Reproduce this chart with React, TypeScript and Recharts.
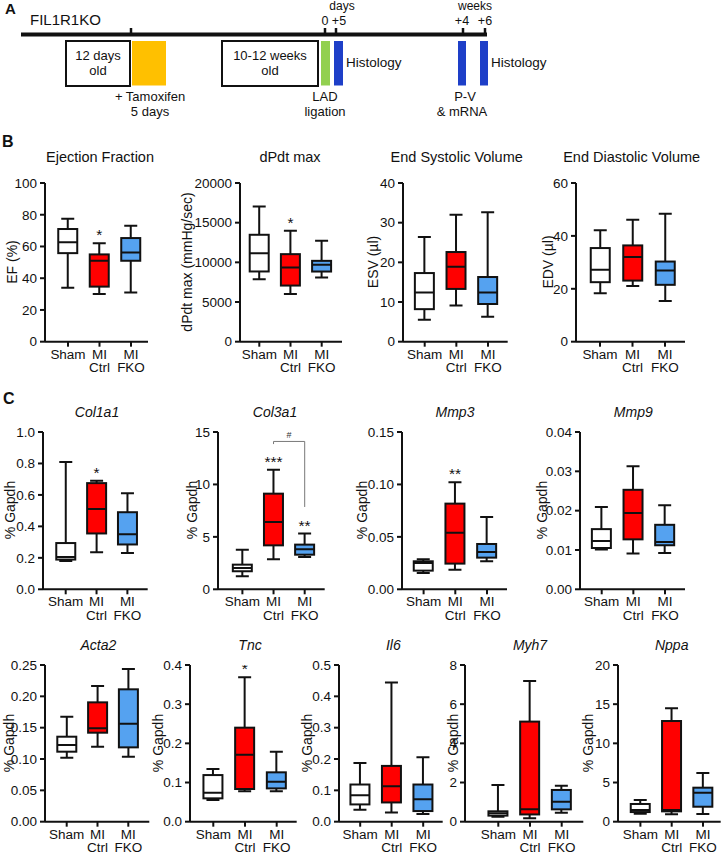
import React from 'react';
import { ComposedChart, Bar, XAxis, YAxis, ReferenceLine, ReferenceArea } from 'recharts';

const FONT = 'Arial, "Liberation Sans", Helvetica, sans-serif';
const INK = '#111111';

// ---------- data ----------
const groups = ['Sham', 'MI Ctrl', 'MI FKO'];
const groupColors = ['#ffffff', '#ff0000', '#55a2f0'];

// each row: [min, q1, median, q3, max] for Sham, MI Ctrl, MI FKO
const efStats = [[34, 55.8, 62.7, 71, 77.5], [30, 34.7, 51, 55, 62], [31, 51, 56.2, 65.3, 73]];
const efTicks = [0, 20, 40, 60, 80, 100];
const efStars = ['', '*', ''];

const dpdtStats = [[7874, 8850, 11158, 13474, 17053], [6021, 7074, 9347, 11032, 13979], [8084, 8842, 9684, 10189, 12716]];
const dpdtTicks = [0, 5000, 10000, 15000, 20000];
const dpdtStars = ['', '*', ''];

const esvStats = [[5.5, 8.2, 12.4, 17.3, 26.4], [9.1, 13.3, 18.9, 22.6, 32], [6.3, 9.5, 12.4, 16.3, 32.6]];
const esvTicks = [0, 10, 20, 30, 40];

const edvStats = [[18.3, 22.5, 27.2, 35.4, 42.1], [21.1, 23.1, 32, 36.4, 46.1], [15.4, 21.5, 26.9, 30.3, 48.4]];
const edvTicks = [0, 20, 40, 60];

const col1a1Stats = [[0.18, 0.189, 0.205, 0.294, 0.809], [0.235, 0.355, 0.51, 0.675, 0.69], [0.23, 0.285, 0.35, 0.49, 0.61]];
const col1a1Ticks = [0, 0.2, 0.4, 0.6, 0.8, 1.0];
const col1a1Stars = ['', '*', ''];

const col3a1Stats = [[1.24, 1.72, 2.03, 2.35, 3.78], [2.86, 4.19, 6.42, 9.12, 11.4], [3.08, 3.3, 3.81, 4.26, 5.31]];
const col3a1Ticks = [0, 5, 10, 15];
const col3a1Stars = ['', '***', '**'];
const col3a1Bracket = { from: 'MI Ctrl', to: 'MI FKO', top: 14.1, bottom: 7.85, label: '#' };

const mmp3Stats = [[0.0156, 0.0178, 0.0251, 0.0267, 0.0286], [0.0187, 0.0245, 0.054, 0.0817, 0.102], [0.0267, 0.0302, 0.0356, 0.0432, 0.069]];
const mmp3Ticks = [0, 0.05, 0.1, 0.15];
const mmp3Stars = ['', '**', ''];

const mmp9Stats = [[0.0101, 0.0105, 0.0123, 0.0153, 0.0209], [0.0091, 0.0127, 0.0194, 0.0253, 0.0313], [0.0092, 0.0112, 0.012, 0.0164, 0.0214]];
const mmp9Ticks = [0, 0.01, 0.02, 0.03, 0.04];

const acta2Stats = [[0.1021, 0.1117, 0.1223, 0.1356, 0.1676], [0.1197, 0.142, 0.149, 0.1904, 0.2165], [0.1037, 0.1186, 0.1564, 0.2112, 0.2436]];
const acta2Ticks = [0, 0.05, 0.1, 0.15, 0.2, 0.25];

const tncStats = [[0.0553, 0.0596, 0.074, 0.119, 0.1345], [0.078, 0.0834, 0.171, 0.24, 0.3685], [0.078, 0.085, 0.102, 0.126, 0.1787]];
const tncTicks = [0, 0.1, 0.2, 0.3, 0.4];
const tncStars = ['', '*', ''];

const il6Stats = [[0.0381, 0.0551, 0.0847, 0.1186, 0.1875], [0.0297, 0.0614, 0.1133, 0.178, 0.4439], [0.0244, 0.0339, 0.072, 0.1186, 0.2055]];
const il6Ticks = [0, 0.1, 0.2, 0.3, 0.4, 0.5];

const myh7Stats = [[0.255, 0.31, 0.43, 0.53, 1.87], [0.17, 0.37, 0.63, 5.11, 7.18], [0.46, 0.63, 1.02, 1.62, 1.84]];
const myh7Ticks = [0, 2, 4, 6, 8];

const nppaStats = [[1.02, 1.23, 1.49, 2.26, 2.77], [0.94, 1.32, 1.49, 12.85, 14.47], [0.98, 1.91, 3.7, 4.34, 6.21]];
const nppaTicks = [0, 5, 10, 15, 20];

const noStars = ['', '', ''];

// timeline (panel A), positions on the schematic axis
const timelineMarks = [131, 325, 336, 463, 485];
const timelineSpan = [21, 487];
const periodBoxes = [
  { lines: ['12 days', 'old'], from: 66, to: 130 },
  { lines: ['10-12 weeks', 'old'], from: 222, to: 318 },
];
const eventBars = [
  { name: 'Tamoxifen', from: 132, to: 166, color: '#ffc000' },
  { name: 'LAD ligation', from: 321, to: 330, color: '#92d050' },
  { name: 'Histology 5d', from: 334, to: 343, color: '#1e3fc8' },
  { name: 'P-V', from: 458, to: 466, color: '#1e3fc8' },
  { name: 'Histology 6w', from: 480, to: 488, color: '#1e3fc8' },
];

// ---------- helpers ----------
type TxtProps = { x: number; y: number; text: string; size?: number; anchor?: 'start' | 'middle'; bold?: boolean; italic?: boolean; rotate?: boolean };
const Txt = ({ x, y, text, size = 13, anchor = 'middle', bold, italic, rotate }: TxtProps) => {
  const lh = size * 1.15;
  const base: React.CSSProperties = {
    position: 'absolute', whiteSpace: 'nowrap', fontFamily: FONT, fontSize: size, lineHeight: lh + 'px',
    color: INK, fontWeight: bold ? 'bold' : 'normal', fontStyle: italic ? 'italic' : 'normal',
  };
  if (rotate) {
    return <div style={{ ...base, left: x, top: y, transform: 'translate(-50%, -50%) rotate(-90deg)' }}>{text}</div>;
  }
  if (anchor === 'start') {
    return <div style={{ ...base, left: x, top: y - lh / 2 }}>{text}</div>;
  }
  return <div style={{ ...base, left: x - 150, width: 300, textAlign: 'center', top: y - lh / 2 }}>{text}</div>;
};

const XTick = (props: any) => {
  const { x, y, payload } = props;
  const parts = String(payload.value).split(' ');
  return (
    <text x={x} y={y} textAnchor="middle" fontSize={13.5} fill={INK} fontFamily={FONT}>
      {parts.map((p, i) => (
        <tspan key={i} x={x} dy={i === 0 ? 11 : 13.5}>{p}</tspan>
      ))}
    </text>
  );
};

const BoxShape = (props: any) => {
  const { x, y, width, height, payload } = props;
  if (!payload || !payload.stats) return null;
  const [mn, q1, md, q3, mx] = payload.stats;
  const top = Math.min(y, y + height);
  const bot = Math.max(y, y + height);
  const pix = (v: number) => bot - ((v - mn) / (mx - mn)) * (bot - top);
  const cx = x + width / 2;
  const cap = 6.5;
  return (
    <g>
      <line x1={cx} x2={cx} y1={pix(mx)} y2={pix(q3)} stroke={INK} strokeWidth={2} />
      <line x1={cx} x2={cx} y1={pix(q1)} y2={pix(mn)} stroke={INK} strokeWidth={2} />
      <line x1={cx - cap} x2={cx + cap} y1={pix(mx)} y2={pix(mx)} stroke={INK} strokeWidth={2} />
      <line x1={cx - cap} x2={cx + cap} y1={pix(mn)} y2={pix(mn)} stroke={INK} strokeWidth={2} />
      <rect x={x} y={pix(q3)} width={width} height={Math.max(0.5, pix(q1) - pix(q3))} fill={payload.fill} stroke={INK} strokeWidth={2} />
      <line x1={x} x2={x + width} y1={pix(md)} y2={pix(md)} stroke={INK} strokeWidth={2} />
      {payload.star ? (
        <text x={cx} y={pix(mx) - 3} textAnchor="middle" fontSize={15.5} fill={INK} fontFamily={FONT}>{payload.star}</text>
      ) : null}
    </g>
  );
};

type Spec = {
  stats: number[][]; stars: string[]; ticks: number[]; dec: number;
  axisX: number; axisEnd: number; c0: number; c2: number; plotTop: number; plotBottom: number;
  bracket?: { from: string; to: string; top: number; bottom: number; label: string };
};

const BoxChart = ({ spec }: { spec: Spec }) => {
  const { stats, stars, ticks, dec, axisX, axisEnd, c0, c2, plotTop, plotBottom, bracket } = spec;
  const data = groups.map((g, i) => ({ name: g, range: [stats[i][0], stats[i][4]], stats: stats[i], fill: groupColors[i], star: stars[i] }));
  const d = (c2 - c0) / 2;
  const pl = c0 - d / 2 - axisX;
  const pr = axisEnd - (c2 + d / 2);
  const YW = 50, MT = 22, MR = 3, XH = 40;
  const left = axisX - YW;
  const top = plotTop - MT;
  const width = axisEnd + MR - left;
  const height = plotBottom + XH - top;
  const axisStyle = { stroke: INK, strokeWidth: 2 };
  return (
    <div style={{ position: 'absolute', left, top, width, height }}>
      <ComposedChart width={width} height={height} data={data} margin={{ top: MT, right: MR, left: 0, bottom: 0 }}>
        <XAxis dataKey="name" type="category" interval={0} padding={{ left: pl, right: pr }} height={XH}
          tick={(p: any) => <XTick {...p} />} tickSize={5} tickMargin={1} axisLine={axisStyle} tickLine={axisStyle} />
        <YAxis type="number" domain={[ticks[0], ticks[ticks.length - 1]]} ticks={ticks} interval={0} width={YW}
          tickFormatter={(v: number) => v.toFixed(dec)} tick={{ fontSize: 13.5, fill: INK, fontFamily: FONT }}
          tickSize={5} tickMargin={3} axisLine={axisStyle} tickLine={axisStyle} allowDataOverflow />
        <Bar dataKey="range" barSize={19} shape={BoxShape} isAnimationActive={false} />
        {bracket ? (
          <ReferenceLine segment={[{ x: bracket.from, y: bracket.top }, { x: bracket.to, y: bracket.top }]} stroke="#777" strokeWidth={1}
            ifOverflow="visible" label={{ value: bracket.label, position: 'center', dy: -7, fontSize: 9, fill: '#333' }} />
        ) : null}
        {bracket ? (
          <ReferenceLine segment={[{ x: bracket.to, y: bracket.top }, { x: bracket.to, y: bracket.bottom }]} stroke="#777" strokeWidth={1} ifOverflow="visible" />
        ) : null}
        {bracket ? (
          <ReferenceLine segment={[{ x: bracket.from, y: bracket.top }, { x: bracket.from, y: bracket.top - 0.25 }]} stroke="#777" strokeWidth={1} ifOverflow="visible" />
        ) : null}
      </ComposedChart>
    </div>
  );
};

const rowB = { plotTop: 183, plotBottom: 341.7 };
const rowC1 = { plotTop: 431.7, plotBottom: 589 };
const rowC2 = { plotTop: 665, plotBottom: 821.7 };

const charts: { spec: Spec; title: string; italic: boolean; tx: number; ty: number; ylabel: string; lx: number; ly: number }[] = [
  { spec: { stats: efStats, stars: efStars, ticks: efTicks, dec: 0, axisX: 45, axisEnd: 148, c0: 68, c2: 131, ...rowB }, title: 'Ejection Fraction', italic: false, tx: 100, ty: 157, ylabel: 'EF (%)', lx: 12, ly: 262 },
  { spec: { stats: dpdtStats, stars: dpdtStars, ticks: dpdtTicks, dec: 0, axisX: 240, axisEnd: 342, c0: 259.3, c2: 321.7, ...rowB }, title: 'dPdt max', italic: false, tx: 290, ty: 157, ylabel: 'dPdt max (mmHg/sec)', lx: 187, ly: 262 },
  { spec: { stats: esvStats, stars: noStars, ticks: esvTicks, dec: 0, axisX: 403.3, axisEnd: 508, c0: 425, c2: 488.3, ...rowB }, title: 'End Systolic Volume', italic: false, tx: 456.7, ty: 157, ylabel: 'ESV (µl)', lx: 373, ly: 262 },
  { spec: { stats: edvStats, stars: noStars, ticks: edvTicks, dec: 0, axisX: 576, axisEnd: 685, c0: 600, c2: 665, ...rowB }, title: 'End Diastolic Volume', italic: false, tx: 631.7, ty: 157, ylabel: 'EDV (µl)', lx: 548, ly: 262 },

  { spec: { stats: col1a1Stats, stars: col1a1Stars, ticks: col1a1Ticks, dec: 1, axisX: 43.3, axisEnd: 148, c0: 66, c2: 127.7, ...rowC1 }, title: 'Col1a1', italic: true, tx: 97, ty: 411.7, ylabel: '% Gapdh', lx: 10, ly: 510 },
  { spec: { stats: col3a1Stats, stars: col3a1Stars, ticks: col3a1Ticks, dec: 0, axisX: 218.3, axisEnd: 325, c0: 242.7, c2: 305, bracket: col3a1Bracket, ...rowC1 }, title: 'Col3a1', italic: true, tx: 275, ty: 411.7, ylabel: '% Gapdh', lx: 192, ly: 510 },
  { spec: { stats: mmp3Stats, stars: mmp3Stars, ticks: mmp3Ticks, dec: 2, axisX: 401.7, axisEnd: 506.7, c0: 423.3, c2: 486.7, ...rowC1 }, title: 'Mmp3', italic: true, tx: 455, ty: 411.7, ylabel: '% Gapdh', lx: 362, ly: 510 },
  { spec: { stats: mmp9Stats, stars: noStars, ticks: mmp9Ticks, dec: 2, axisX: 580, axisEnd: 685, c0: 601.7, c2: 665, ...rowC1 }, title: 'Mmp9', italic: true, tx: 633.3, ty: 411.7, ylabel: '% Gapdh', lx: 542, ly: 510 },

  { spec: { stats: acta2Stats, stars: noStars, ticks: acta2Ticks, dec: 2, axisX: 45, axisEnd: 149.3, c0: 66.7, c2: 128.3, ...rowC2 }, title: 'Acta2', italic: true, tx: 98.3, ty: 645.5, ylabel: '% Gapdh', lx: 8.5, ly: 743 },
  { spec: { stats: tncStats, stars: tncStars, ticks: tncTicks, dec: 1, axisX: 190, axisEnd: 296.7, c0: 213.3, c2: 276.7, ...rowC2 }, title: 'Tnc', italic: true, tx: 250, ty: 645.5, ylabel: '% Gapdh', lx: 158, ly: 743 },
  { spec: { stats: il6Stats, stars: noStars, ticks: il6Ticks, dec: 1, axisX: 339.3, axisEnd: 443, c0: 360.5, c2: 423.5, ...rowC2 }, title: 'Il6', italic: true, tx: 393.3, ty: 645.5, ylabel: '% Gapdh', lx: 307, ly: 743 },
  { spec: { stats: myh7Stats, stars: noStars, ticks: myh7Ticks, dec: 0, axisX: 465, axisEnd: 583.3, c0: 498.3, c2: 561.7, ...rowC2 }, title: 'Myh7', italic: true, tx: 530, ty: 645.5, ylabel: '% Gapdh', lx: 453, ly: 743 },
  { spec: { stats: nppaStats, stars: noStars, ticks: nppaTicks, dec: 0, axisX: 618.3, axisEnd: 721, c0: 640.7, c2: 703.3, ...rowC2 }, title: 'Nppa', italic: true, tx: 671.7, ty: 645.5, ylabel: '% Gapdh', lx: 588, ly: 743 },
];

const Timeline = () => {
  const lineY = 34.5;
  const data = timelineMarks.map((t) => ({ t }));
  return (
    <div style={{ position: 'absolute', left: 0, top: 0, width: 725, height: 130 }}>
      <ComposedChart width={725} height={130} data={data} margin={{ top: 0, right: 0, left: 0, bottom: 0 }}>
        <XAxis type="number" dataKey="t" domain={[0, 725]} hide allowDataOverflow />
        <YAxis type="number" domain={[0, 130]} reversed hide allowDataOverflow />
        <ReferenceLine segment={[{ x: timelineSpan[0], y: lineY }, { x: timelineSpan[1], y: lineY }]} stroke={INK} strokeWidth={4} ifOverflow="visible" />
        {timelineMarks.map((t) => (
          <ReferenceLine key={t} segment={[{ x: t, y: 28 }, { x: t, y: lineY }]} stroke={INK} strokeWidth={2.5} ifOverflow="visible" />
        ))}
        {periodBoxes.map((p) => (
          <ReferenceArea key={p.from} x1={p.from} x2={p.to} y1={41} y2={86} fill="#ffffff" fillOpacity={1} stroke={INK} strokeWidth={2} ifOverflow="visible" />
        ))}
        {eventBars.map((e) => (
          <ReferenceArea key={e.name} x1={e.from} x2={e.to} y1={41} y2={85.5} fill={e.color} fillOpacity={1} stroke="none" ifOverflow="visible" />
        ))}
      </ComposedChart>
    </div>
  );
};

export default function App() {
  return (
    <div style={{ position: 'absolute', left: 0, top: 0, width: 725, height: 855, overflow: 'hidden', background: '#ffffff', fontFamily: FONT }}>
      <Timeline />
      {/* panel A texts */}
      <Txt x={5} y={8.7} text="A" size={15} anchor="start" bold />
      <Txt x={30} y={20} text="FIL1R1KO" size={15} anchor="start" />
      <Txt x={342} y={7} text="days" size={12} />
      <Txt x={475} y={7} text="weeks" size={12} />
      <Txt x={325} y={21.3} text="0" size={12.5} />
      <Txt x={339} y={21.3} text="+5" size={12.5} />
      <Txt x={462} y={21.3} text="+4" size={12.5} />
      <Txt x={485} y={21.3} text="+6" size={12.5} />
      {periodBoxes.map((p) => (
        <React.Fragment key={p.from}>
          <Txt x={(p.from + p.to) / 2} y={56} text={p.lines[0]} size={13} />
          <Txt x={(p.from + p.to) / 2} y={71} text={p.lines[1]} size={13} />
        </React.Fragment>
      ))}
      <Txt x={346} y={63} text="Histology" size={13.5} anchor="start" />
      <Txt x={491} y={63} text="Histology" size={13.5} anchor="start" />
      <Txt x={150} y={97} text="+ Tamoxifen" size={13} />
      <Txt x={150} y={112} text="5 days" size={13} />
      <Txt x={325} y={97} text="LAD" size={13} />
      <Txt x={325} y={112} text="ligation" size={13} />
      <Txt x={465} y={97} text="P-V" size={13} />
      <Txt x={462} y={112} text="& mRNA" size={13} />

      <Txt x={2} y={142.5} text="B" size={16} anchor="start" bold />
      <Txt x={3} y={399} text="C" size={16} anchor="start" bold />

      {charts.map((c, i) => (
        <React.Fragment key={i}>
          <BoxChart spec={c.spec} />
          <Txt x={c.tx} y={c.ty} text={c.title} size={c.italic ? 14 : 14.5} italic={c.italic} />
          <Txt x={c.lx} y={c.ly} text={c.ylabel} size={14} rotate />
        </React.Fragment>
      ))}
    </div>
  );
}
